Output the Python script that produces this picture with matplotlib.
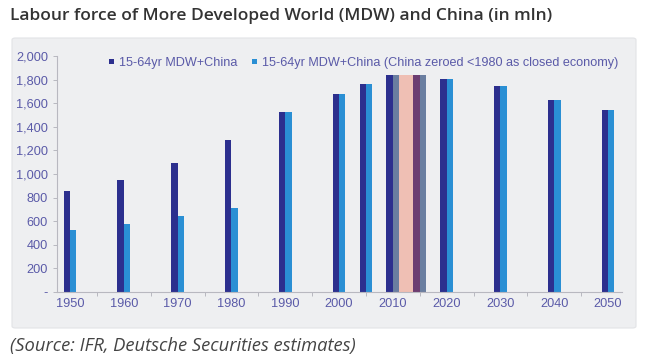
import matplotlib
matplotlib.use("Agg")
import matplotlib.pyplot as plt
from matplotlib.patches import FancyBboxPatch
from matplotlib.ticker import FuncFormatter

years = [1950, 1960, 1970, 1980, 1990, 2000, 2005, 2010, 2015, 2020, 2030, 2040, 2050]
mdw_china = [860, 945, 1095, 1290, 1525, 1675, 1765, 1835, 1835, 1805, 1750, 1630, 1540]
mdw_china_zeroed = [525, 575, 645, 715, 1525, 1675, 1765, 1835, 1835, 1805, 1750, 1630, 1540]
tick_years = [1950, 1960, 1970, 1980, 1990, 2000, 2010, 2020, 2030, 2040, 2050]
highlight_start, highlight_end = 2010, 2015
label_dark = "15-64yr MDW+China"
label_light = "15-64yr MDW+China (China zeroed <1980 as closed economy)"
title = "Labour force of More Developed World (MDW) and China (in mln)"
source = "(Source: IFR, Deutsche Securities estimates)"

dark = "#2c2f8e"
light = "#2a8fd4"
txtc = "#5a5aa8"

fig = plt.figure(figsize=(6.56, 3.61), dpi=100)
fig.patch.set_facecolor("white")

# grey panel
panel = FancyBboxPatch((12/656, 1-328/361), (636-12)/656, (328-38)/361,
                       boxstyle="round,pad=0,rounding_size=0.005",
                       transform=fig.transFigure, facecolor="#eeeff1",
                       edgecolor="#e2e3e6", linewidth=0.8, zorder=-10)
fig.patches.append(panel)

ax = fig.add_axes([57/656, 1-292/361, (622-57)/656, (292-56)/361])
ax.set_facecolor("none")
ax.set_zorder(5)

w = 1.18
ax.bar([y - w/2 for y in years], mdw_china, width=w, color=dark, label=label_dark, zorder=2)
ax.bar([y + w/2 for y in years], mdw_china_zeroed, width=w, color=light, label=label_light, zorder=2)

# highlighted 2010-2015 period (height of the highlighted bars)
hi = mdw_china[years.index(highlight_start)]
ax.bar([highlight_start], [hi], width=highlight_end - highlight_start + w, align="edge",
       color="#f45c35", alpha=0.32, zorder=3, lw=0)

ax.set_xlim(1947.58, 2052.6)
ax.set_ylim(0, 2000)
ax.set_yticks(range(0, 2001, 200))
ax.yaxis.set_major_formatter(FuncFormatter(lambda v, p: "-" if v == 0 else f"{int(v):,}"))
ax.set_xticks(tick_years)
ax.set_xticks([1945 + 10*k for k in range(1, 11)], minor=True)

for s in ["top", "right"]:
    ax.spines[s].set_visible(False)
for s in ["left", "bottom"]:
    ax.spines[s].set_color("#b8b8c0")
    ax.spines[s].set_linewidth(0.8)

ax.tick_params(axis="both", colors="#b8b8c0", labelcolor=txtc, labelsize=9.2, length=3, width=0.7)
ax.tick_params(axis="x", which="major", length=0, pad=4)
ax.tick_params(axis="x", which="minor", length=3, width=0.7, colors="#b8b8c0")
for lab in ax.get_xticklabels() + ax.get_yticklabels():
    lab.set_fontfamily("Liberation Sans")

leg = ax.legend(loc="center left", bbox_to_anchor=(109/656, 1-63/361),
                bbox_transform=fig.transFigure, ncol=2, frameon=False,
                borderpad=0, borderaxespad=0,
                handlelength=0.38, handleheight=0.2, handletextpad=0.4, columnspacing=1.2,
                prop={"family": "Liberation Sans", "size": 9.1})
for t in leg.get_texts():
    t.set_color(txtc)

fig.text(10/656, 1-16/361, title, fontsize=12.5, fontweight="semibold",
         family="Open Sans", color="#333333", va="center", ha="left")
fig.text(10/656, 1-346/361, source, fontsize=13.2, style="italic",
         family="Open Sans", color="#444444", va="center", ha="left")

fig.savefig("out.png", dpi=100, facecolor="white")
